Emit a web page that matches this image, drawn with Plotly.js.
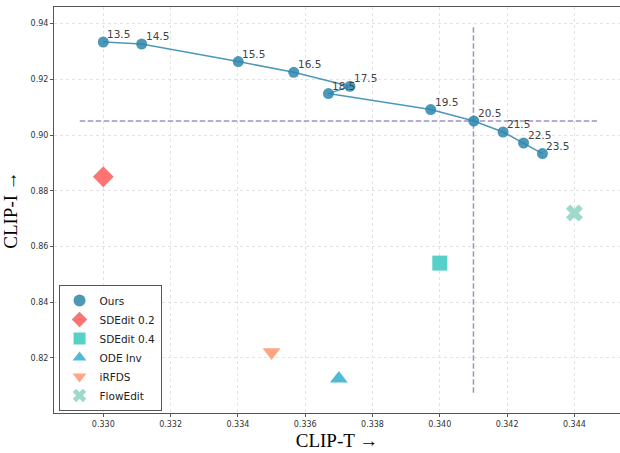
<!DOCTYPE html>
<html>
<head>
<meta charset="utf-8">
<script src="https://cdn.plot.ly/plotly-3.0.1.min.js"></script>
<style>html,body{margin:0;padding:0;background:#fff;}#chart{width:620px;height:453px;}</style>
</head>
<body>
<div id="chart"></div>
<script>
// ---- data ----
const oursLabels = ['13.5','14.5','15.5','16.5','17.5','18.5','19.5','20.5','21.5','22.5','23.5'];
const oursX = [0.3300, 0.33114, 0.33401, 0.33566, 0.33733, 0.33669, 0.33973, 0.34101, 0.34188, 0.34249, 0.34305];
const oursY = [0.93339, 0.93267, 0.92636, 0.92251, 0.91749, 0.91487, 0.90912, 0.90503, 0.90108, 0.89713, 0.89332];

const baselineNames = ['SDEdit 0.2', 'SDEdit 0.4', 'ODE Inv', 'iRFDS', 'FlowEdit'];
const baselineX = [0.330, 0.340, 0.337, 0.335, 0.344];
const baselineY = [0.885, 0.854, 0.8125, 0.822, 0.872];

const refLineX = [0.3293, 0.34467];   // horizontal reference span
const refLineY = [0.905, 0.905];
const vrefLineX = [0.341, 0.341];     // vertical reference
const vrefLineY = [0.93867, 0.80747];

const xTickVals = [0.330, 0.332, 0.334, 0.336, 0.338, 0.340, 0.342, 0.344];
const xTickText = ['0.330','0.332','0.334','0.336','0.338','0.340','0.342','0.344'];
const yTickVals = [0.82, 0.84, 0.86, 0.88, 0.90, 0.92, 0.94];
const yTickText = ['0.82','0.84','0.86','0.88','0.90','0.92','0.94'];

// ---- styles ----
const oursColor = 'rgba(46,134,171,0.85)';
const baselineColors = ['#FF6B6B', '#4ECDC4', '#45B7D1', '#FFA07A', '#98D8C8'];
const baselineSymbols = ['diamond', 'square', 'triangle-up', 'triangle-down', 'x'];
const baselineSizes = [16, 15, 15.5, 15.5, 15];
const refColor = 'rgba(125,100,180,0.72)';

const traces = [];
traces.push({
  x: refLineX, y: refLineY, mode: 'lines', showlegend: false, hoverinfo: 'skip',
  line: {color: refColor, width: 1.5, dash: '5.5px,2.5px'}
});
traces.push({
  x: vrefLineX, y: vrefLineY, mode: 'lines', showlegend: false, hoverinfo: 'skip',
  line: {color: refColor, width: 1.5, dash: '5.5px,2.5px'}
});
traces.push({
  x: oursX, y: oursY, mode: 'lines', showlegend: false, hoverinfo: 'skip',
  line: {color: oursColor, width: 1.5}
});
traces.push({
  x: oursX, y: oursY, name: 'Ours', mode: 'markers',
  marker: {color: oursColor, size: 11, symbol: 'circle'}
});
for (let i = 0; i < baselineNames.length; i++) {
  traces.push({
    x: [baselineX[i]], y: [baselineY[i]], name: baselineNames[i], mode: 'markers',
    marker: {color: baselineColors[i], size: baselineSizes[i], symbol: baselineSymbols[i], opacity: 0.95, line: {width: 0}}
  });
}

const annotations = oursLabels.map((t, i) => ({
  x: oursX[i], y: oursY[i], text: t, xref: 'x', yref: 'y', showarrow: false,
  xanchor: 'left', yanchor: 'bottom', xshift: 2, yshift: 0,
  font: {family: 'DejaVu Sans', size: 10.5, color: '#444'}
}));

const axisCommon = {
  showline: true, mirror: true, linecolor: '#555', linewidth: 1,
  ticks: 'outside', ticklen: 3, tickcolor: '#555', tickwidth: 1,
  showgrid: true, gridcolor: '#e3e3e3', gridwidth: 1, griddash: 'dot',
  zeroline: false, tickfont: {family: 'DejaVu Sans', size: 8, color: '#333'}
};

const layout = {
  width: 620, height: 453,
  margin: {l: 54, r: 0, t: 7, b: 40},
  paper_bgcolor: '#fff', plot_bgcolor: '#fff',
  xaxis: Object.assign({}, axisCommon, {
    range: [0.328535, 0.345355], tickvals: xTickVals, ticktext: xTickText,
    title: {text: 'CLIP-T →', font: {family: 'Liberation Serif', size: 19, color: '#000'}, standoff: 6}
  }),
  yaxis: Object.assign({}, axisCommon, {
    range: [0.80018, 0.94596], tickvals: yTickVals, ticktext: yTickText,
    title: {text: 'CLIP-I →', font: {family: 'Liberation Serif', size: 19, color: '#000'}, standoff: 8}
  }),
  legend: {
    x: 0.008, y: 0.005, xanchor: 'left', yanchor: 'bottom',
    bgcolor: 'rgba(255,255,255,0.85)', bordercolor: '#555', borderwidth: 1,
    font: {family: 'DejaVu Sans', size: 10.5, color: '#222'},
    itemsizing: 'constant', itemwidth: 30
  },
  annotations: annotations,
  showlegend: true
};

Plotly.newPlot('chart', traces, layout, {displayModeBar: false, staticPlot: true});
</script>
</body>
</html>
